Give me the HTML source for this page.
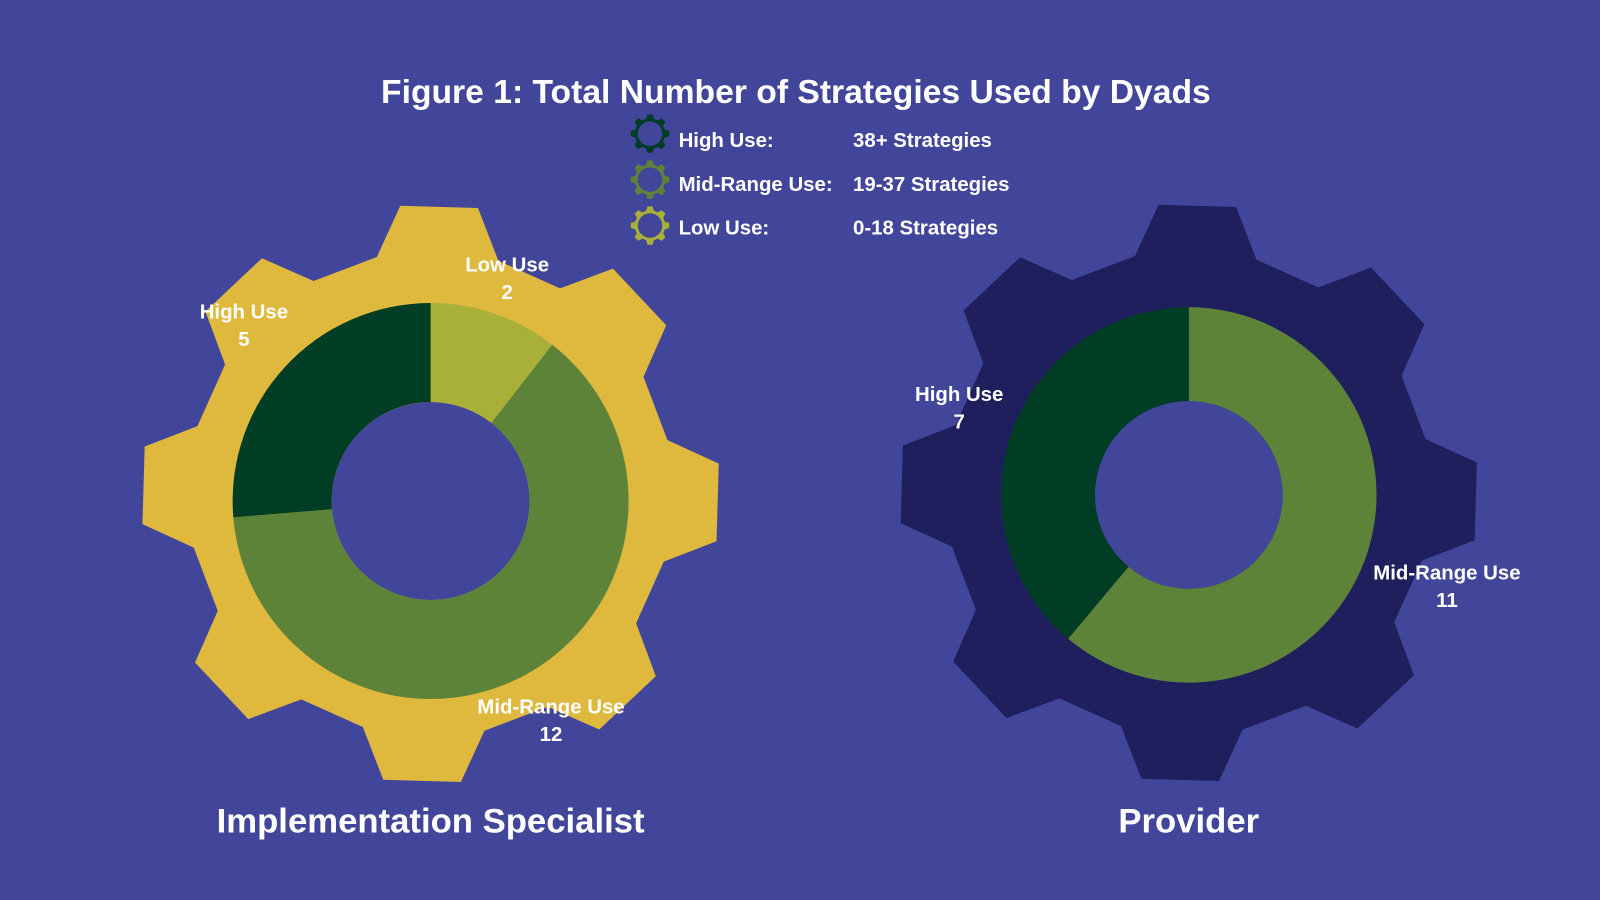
<!DOCTYPE html>
<html><head><meta charset="utf-8"><style>
html,body{margin:0;padding:0;background:#42469a;}
svg{display:block;}
text{font-family:"Liberation Sans",sans-serif;font-weight:bold;fill:#fff;}
</style></head><body>
<svg id="chart" width="1600" height="900" viewBox="0 0 1568 882" xmlns="http://www.w3.org/2000/svg">
<rect width="1568" height="882" fill="#42469a"/>
<text x="780" y="101" font-size="33" text-anchor="middle">Figure 1: Total Number of Strategies Used by Dyads</text>
<g id="legend"></g>
<g id="g1"></g>
<g id="g2"></g>
<text x="422" y="816" font-size="34" text-anchor="middle">Implementation Specialist</text>
<text x="1165" y="816" font-size="34" text-anchor="middle">Provider</text>
</svg>
<script>
const categories = ["Low Use","Mid-Range Use","High Use"];
const specialistValues = [2,12,5];
const providerValues = [0,11,7];
const legendLabels = ["High Use:","Mid-Range Use:","Low Use:"];
const legendRanges = ["38+ Strategies","19-37 Strategies","0-18 Strategies"];
const colors = {"Low Use":"#a8b03a","Mid-Range Use":"#5d8338","High Use":"#003d25"};
const NS="http://www.w3.org/2000/svg";
function mk(tag,attrs,parent){const e=document.createElementNS(NS,tag);for(const k in attrs)e.setAttribute(k,attrs[k]);parent.appendChild(e);return e;}
function gearPath(cx,cy,rt,rr,rot,hole){
  let d="";const n=8;
  for(let i=0;i<n;i++){
    const a=i*360/n+rot;
    const pts=[[a-14.5,rr],[a-7.7,rt],[a+7.7,rt],[a+14.5,rr]];
    pts.forEach((p,j)=>{const t=(p[0]-90)*Math.PI/180;d+=(i===0&&j===0?"M":"L")+(cx+p[1]*Math.cos(t)).toFixed(1)+","+(cy+p[1]*Math.sin(t)).toFixed(1);});
  }
  d+="Z";
  if(hole){d+=`M${cx+hole},${cy}A${hole},${hole} 0 1 0 ${cx-hole},${cy}A${hole},${hole} 0 1 0 ${cx+hole},${cy}Z`;}
  return d;
}
function arc(cx,cy,ro,ri,a0,a1){
  const p=(r,a)=>{const t=(a-90)*Math.PI/180;return [cx+r*Math.cos(t),cy+r*Math.sin(t)];};
  const lg=(a1-a0)>180?1:0;
  const [x1,y1]=p(ro,a0),[x2,y2]=p(ro,a1),[x3,y3]=p(ri,a1),[x4,y4]=p(ri,a0);
  return `M${x1},${y1}A${ro},${ro} 0 ${lg} 1 ${x2},${y2}L${x3},${y3}A${ri},${ri} 0 ${lg} 0 ${x4},${y4}Z`;
}
function donut(g,cx,cy,ro,ri,vals,labelPos,prefix){
  const tot=vals.reduce((a,b)=>a+b,0);let a=0;
  vals.forEach((v,i)=>{
    if(v<=0)return;
    const a1=a+v/tot*360;
    const p=mk("path",{d:arc(cx,cy,ro,ri,a,a1),fill:colors[categories[i]]},g);
    
    
    const lp=labelPos[i];
    const t1=mk("text",{x:lp[0],y:lp[1],"font-size":20,"text-anchor":"middle"},g);t1.textContent=categories[i];
    
    
    const t2=mk("text",{x:lp[0],y:lp[1]+27,"font-size":20,"text-anchor":"middle"},g);t2.textContent=v;
    
    
    a=a1;
  });
}
const g1=document.getElementById('g1');
const gp1=mk("path",{d:gearPath(422,484,284,238,1.7),fill:"#dfb83e"},g1);


mk("circle",{cx:422,cy:491,r:97,fill:"#42469a"},g1);
donut(g1,422,491,194,97,specialistValues,[[497,266],[540,699],[239,312]],'specialist');
const g2=document.getElementById('g2');
const gp2=mk("path",{d:gearPath(1165,483,284,238,1.7),fill:"#201f5e"},g2);


mk("circle",{cx:1165,cy:485,r:92,fill:"#42469a"},g2);
donut(g2,1165,485,184,92,providerValues,[[0,0],[1418,568],[940,393]],'provider');
const lg=document.getElementById('legend');
const legendColors=[colors["High Use"],colors["Mid-Range Use"],colors["Low Use"]];
legendLabels.forEach((l,i)=>{
  const y=131+i*45;
  const ic=mk("path",{d:gearPath(637,y,19,15,0,12),fill:legendColors[i],"fill-rule":"evenodd"},lg);
  
  
  const t=mk("text",{x:665,y:137+i*43+7,"font-size":20},lg);t.textContent=l;
  
  
  const r=mk("text",{x:836,y:137+i*43+7,"font-size":20},lg);r.textContent=legendRanges[i];
  
  
});
</script>
</body></html>
